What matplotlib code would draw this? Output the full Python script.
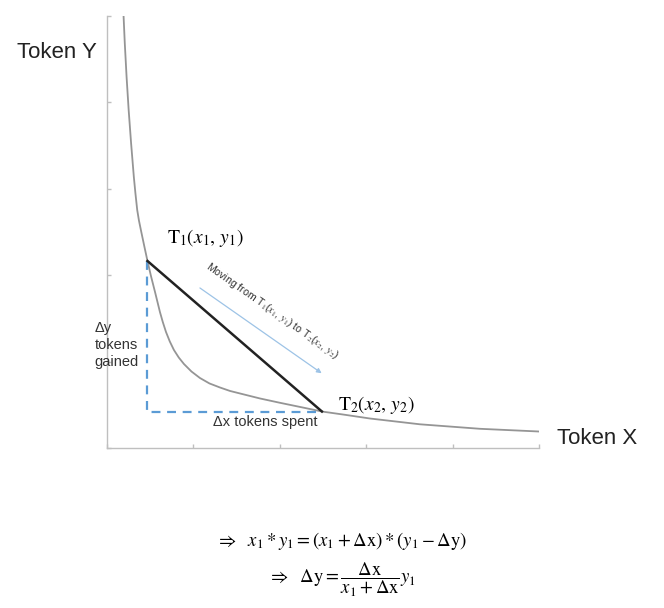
import matplotlib
matplotlib.use("Agg")
import matplotlib.pyplot as plt

plt.rcParams['font.family'] = ['Liberation Sans', 'DejaVu Sans']
plt.rcParams['mathtext.fontset'] = 'stix'

############################################################
# Data
############################################################

# constant product curve
curve_x = [0.189, 0.206, 0.227, 0.251, 0.279, 0.311, 0.329, 0.350, 0.370, 0.396,
           0.434, 0.469, 0.509, 0.556, 0.613, 0.646, 0.683, 0.727, 0.775, 0.831,
           0.891, 0.978, 1.076, 1.186, 1.308, 1.424, 1.539, 1.771, 2.002, 2.234,
           2.488, 2.755, 3.044, 3.623, 4.317, 4.992]
curve_y = [5.069, 4.688, 4.294, 3.912, 3.530, 3.137, 2.951, 2.755, 2.633, 2.506,
           2.326, 2.164, 1.991, 1.806, 1.574, 1.458, 1.343, 1.233, 1.134, 1.047,
           0.972, 0.885, 0.810, 0.747, 0.700, 0.660, 0.631, 0.573, 0.523, 0.475,
           0.422, 0.384, 0.341, 0.274, 0.222, 0.191]

# the two trade points
t1 = (0.469, 2.164)
t2 = (2.488, 0.422)

# direction arrow
arrow_start = (1.076, 1.852)
arrow_end = (2.485, 0.865)

ticks = [0, 1, 2, 3, 4, 5]

blue = '#5b9bd5'
grey = '#959595'

############################################################
# Figure
############################################################

fig = plt.figure(figsize=(6.64, 6.08), dpi=100)
ax = fig.add_axes([0.1611, 0.2632, 0.6506, 0.7105])

ax.plot(curve_x, curve_y, color=grey, lw=1.3, solid_joinstyle='round')

# dashed delta lines
ax.plot([t1[0], t1[0], t2[0]], [t1[1], t2[1], t2[1]],
        color=blue, lw=1.6, ls=(0, (4, 3)))

# straight move T1 -> T2
ax.plot([t1[0], t2[0]], [t1[1], t2[1]], color='#222222', lw=1.8)

ax.annotate('', xy=arrow_end, xytext=arrow_start,
            arrowprops=dict(arrowstyle='-|>', color='#9dc3e6', lw=0.9,
                            mutation_scale=7, shrinkA=0, shrinkB=0))

ax.text(1.91, 1.59, r'Moving from T$_1$($x_1$, $y_1$) to T$_2$($x_2$, $y_2$)',
        fontsize=7.6, rotation=-35, rotation_mode='anchor',
        ha='center', va='center', color='#333333')

ax.text(0.70, 2.43, r'$\mathrm{T}_1(x_1,\,y_1)$', fontsize=14,
        ha='left', va='center')
ax.text(2.67, 0.50, r'$\mathrm{T}_2(x_2,\,y_2)$', fontsize=14,
        ha='left', va='center')

ax.text(-0.14, 1.19, 'Δy\ntokens\ngained', fontsize=10.5, ha='left',
        va='center', linespacing=1.25, color='#333333')
ax.text(1.83, 0.295, 'Δx tokens spent', fontsize=10.5, ha='center',
        va='center', color='#333333')

ax.set_xlim(0, 5)
ax.set_ylim(0, 5)
ax.set_xticks(ticks)
ax.set_yticks(ticks)
ax.set_xticklabels([])
ax.set_yticklabels([])
ax.tick_params(direction='in', length=3, color='#bfbfbf', width=1)
for side in ['top', 'right']:
    ax.spines[side].set_visible(False)
for side in ['left', 'bottom']:
    ax.spines[side].set_color('#bfbfbf')
    ax.spines[side].set_linewidth(1)

fig.text(17 / 664, 1 - 52 / 608, 'Token Y', fontsize=16, ha='left',
         va='center', color='#222222')
fig.text(557 / 664, 1 - 438 / 608, 'Token X', fontsize=16, ha='left',
         va='center', color='#222222')

# formulas under the chart
fig.text(342 / 664, 1 - 541 / 608,
         r'$\Rightarrow\ \ x_1 * y_1 = (x_1 + \Delta\mathrm{x}) * (y_1 - \Delta\mathrm{y})$',
         fontsize=13.5, ha='center', va='center')
fig.text(342 / 664, 1 - 580 / 608,
         r'$\Rightarrow\ \ \Delta\mathrm{y} = \dfrac{\Delta\mathrm{x}}{x_1 + \Delta\mathrm{x}}y_1$',
         fontsize=13.5, ha='center', va='center')

fig.savefig('out.png', dpi=100)
